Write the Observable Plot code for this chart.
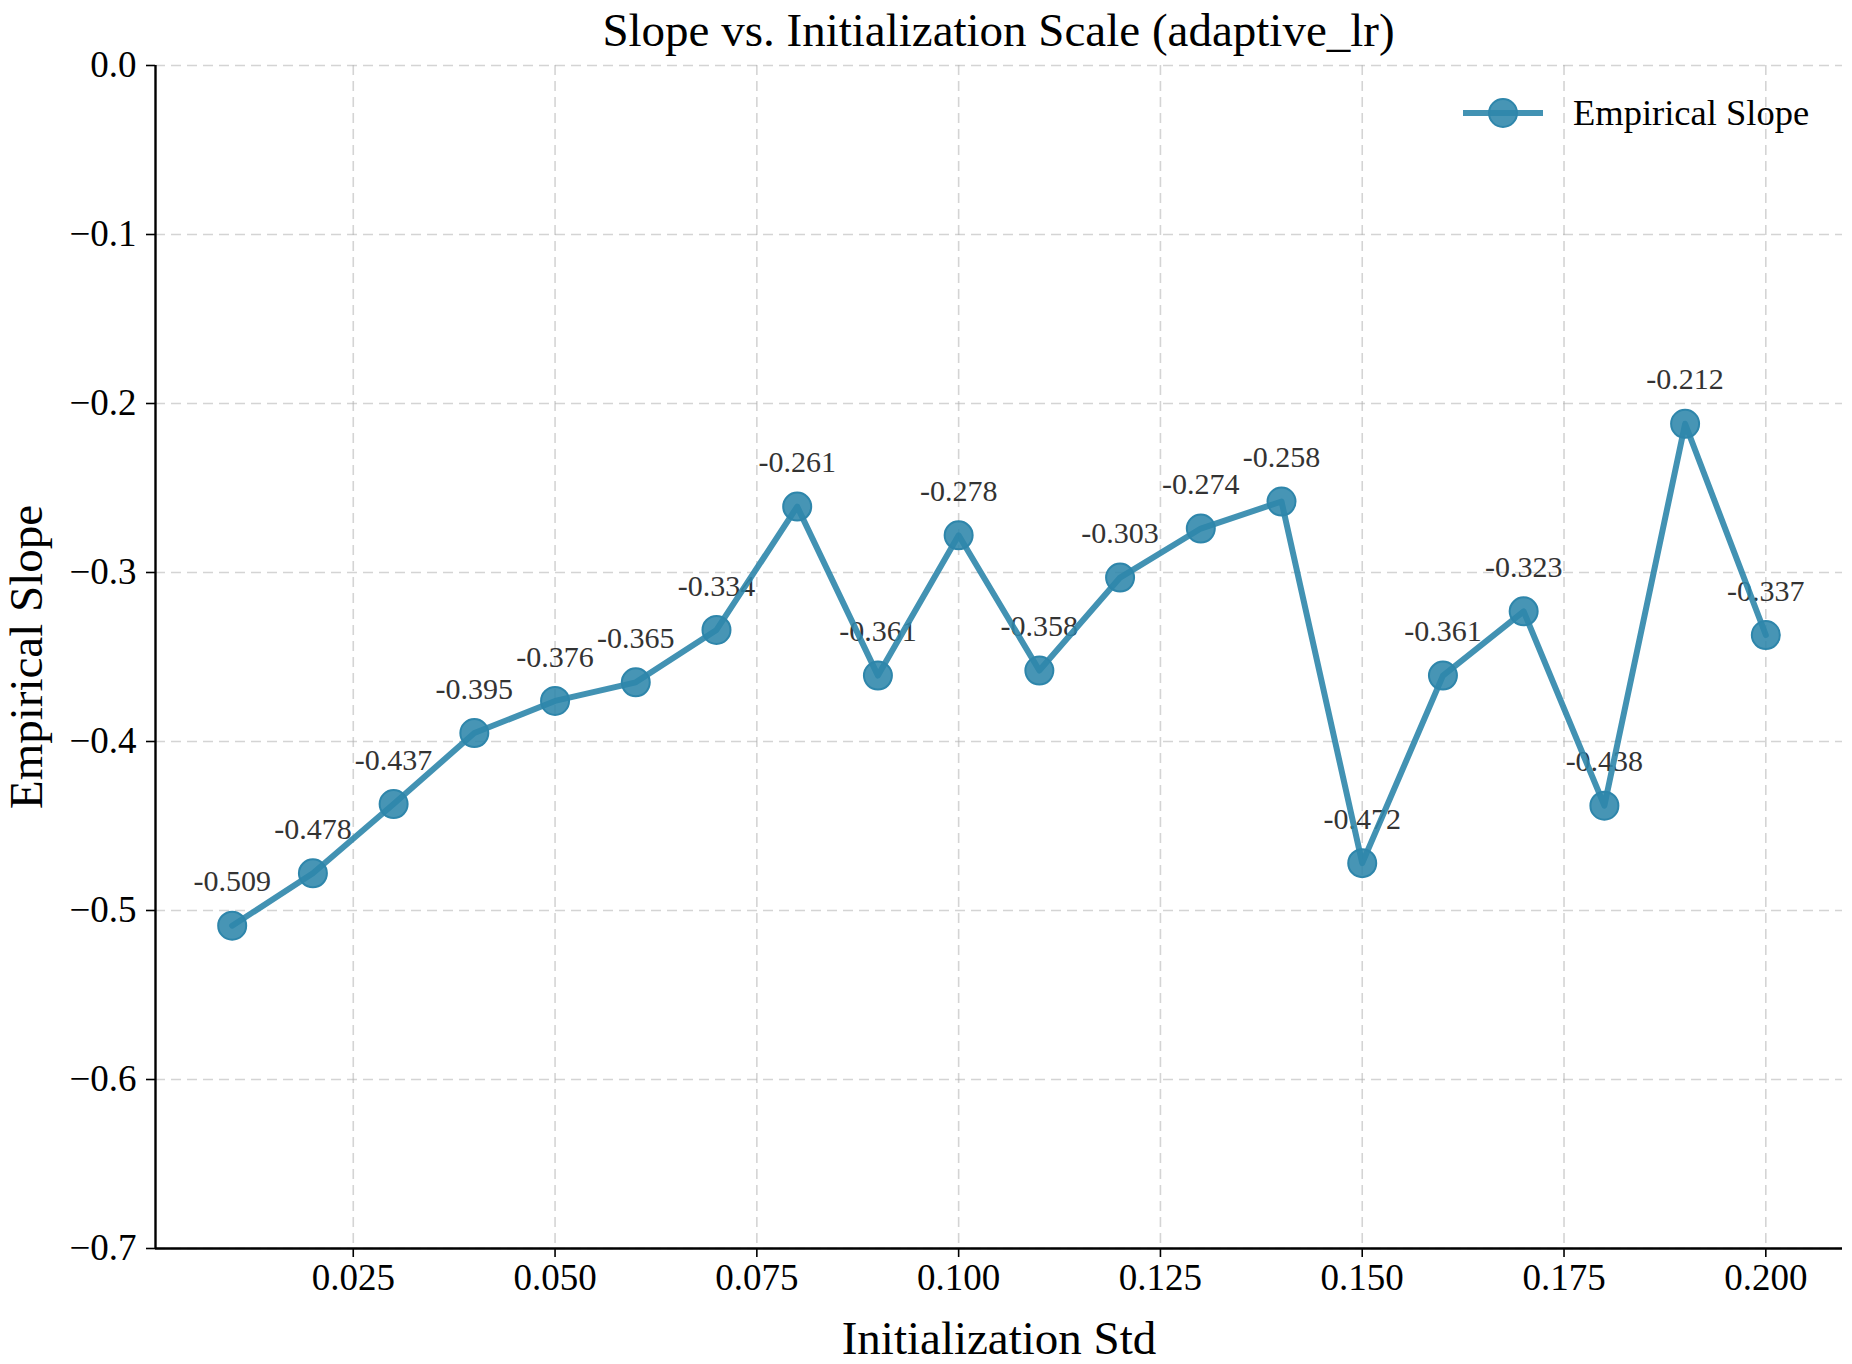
<!DOCTYPE html>
<html>
<head>
<meta charset="utf-8">
<script src="https://cdn.jsdelivr.net/npm/d3@7"></script>
<script src="https://cdn.jsdelivr.net/npm/@observablehq/plot@0.6"></script>
<style>
  body { margin: 0; background: white; font-family: "Liberation Serif", "DejaVu Serif", serif; }
  #wrap { position: relative; width: 1852px; height: 1364px; }
  #title { position: absolute; left: 155px; top: 3px; width: 1687px; text-align: center; font-size: 47px; line-height: 54px; color: #000; white-space: nowrap; }
  #legend { position: absolute; left: 1461px; top: 91px; display: flex; align-items: center; font-size: 36.5px; color: #000; }
  #legend svg { margin-right: 28px; }
</style>
</head>
<body>
<div id="wrap">
  <div id="chart"></div>
  <div id="title">Slope vs. Initialization Scale (adaptive_lr)</div>
  <div id="legend"></div>
</div>
<script>
const initStd = [0.01, 0.02, 0.03, 0.04, 0.05, 0.06, 0.07, 0.08, 0.09, 0.10,
                 0.11, 0.12, 0.13, 0.14, 0.15, 0.16, 0.17, 0.18, 0.19, 0.20];
const slopes = [-0.509, -0.478, -0.437, -0.395, -0.376, -0.365, -0.334, -0.261, -0.361, -0.278,
                -0.358, -0.303, -0.274, -0.258, -0.472, -0.361, -0.323, -0.438, -0.212, -0.337];
const xTicks = [0.025, 0.050, 0.075, 0.100, 0.125, 0.150, 0.175, 0.200];
const yTicks = [0.0, -0.1, -0.2, -0.3, -0.4, -0.5, -0.6, -0.7];
const xDomain = [0.0005, 0.2095];
const yDomain = [-0.7, 0.0];
const seriesName = "Empirical Slope";
const xLabel = "Initialization Std";
const yLabel = "Empirical Slope";

const data = initStd.map((x, i) => ({x, y: slopes[i]}));
const color = "#2E86AB";

const plot = Plot.plot({
  width: 1852,
  height: 1364,
  marginTop: 65,
  marginBottom: 116,
  marginLeft: 155,
  marginRight: 10,
  style: {fontFamily: "Liberation Serif, serif", background: "white", color: "#000"},
  x: {domain: xDomain},
  y: {domain: yDomain},
  marks: [
    Plot.gridX(xTicks, {stroke: "#b0b0b0", strokeOpacity: 0.55, strokeWidth: 1.6, strokeDasharray: "10,6"}),
    Plot.gridY(yTicks, {stroke: "#b0b0b0", strokeOpacity: 0.55, strokeWidth: 1.6, strokeDasharray: "10,6"}),
    Plot.axisX(xTicks, {tickFormat: d3.format(".3f"), fontSize: 37, tickSize: 9, tickPadding: 6, strokeWidth: 1.6, label: null}),
    Plot.axisY(yTicks, {tickFormat: d3.format(".1f"), fontSize: 37, tickSize: 9, tickPadding: 10, strokeWidth: 1.6, label: null}),
    Plot.ruleX([xDomain[0]], {stroke: "#000", strokeWidth: 2.4}),
    Plot.ruleY([yDomain[0]], {stroke: "#000", strokeWidth: 2.4}),
    Plot.text([xLabel], {frameAnchor: "bottom", lineAnchor: "middle", dy: 90, fontSize: 47, fill: "#000"}),
    Plot.text([yLabel], {frameAnchor: "left", textAnchor: "middle", lineAnchor: "middle", dx: -129, rotate: -90, fontSize: 47, fill: "#000"}),
    Plot.text(data, {x: "x", y: "y", text: d => d.y.toFixed(3), dy: -44, fontSize: 30, fill: "#333"}),
    Plot.line(data, {x: "x", y: "y", stroke: color, strokeWidth: 6, strokeOpacity: 0.9}),
    Plot.dot(data, {x: "x", y: "y", r: 14, fill: color, fillOpacity: 0.88, stroke: color, strokeWidth: 2})
  ]
});
document.getElementById("chart").appendChild(plot);

// legend
const lg = document.getElementById("legend");
lg.innerHTML = `<svg width="84" height="40" viewBox="0 0 84 40">
  <line x1="2" y1="20" x2="82" y2="20" stroke="${color}" stroke-width="6" stroke-opacity="0.9"/>
  <circle cx="42" cy="20" r="14" fill="${color}" fill-opacity="0.88" stroke="${color}" stroke-width="2"/>
</svg><span>${seriesName}</span>`;
</script>
</body>
</html>
